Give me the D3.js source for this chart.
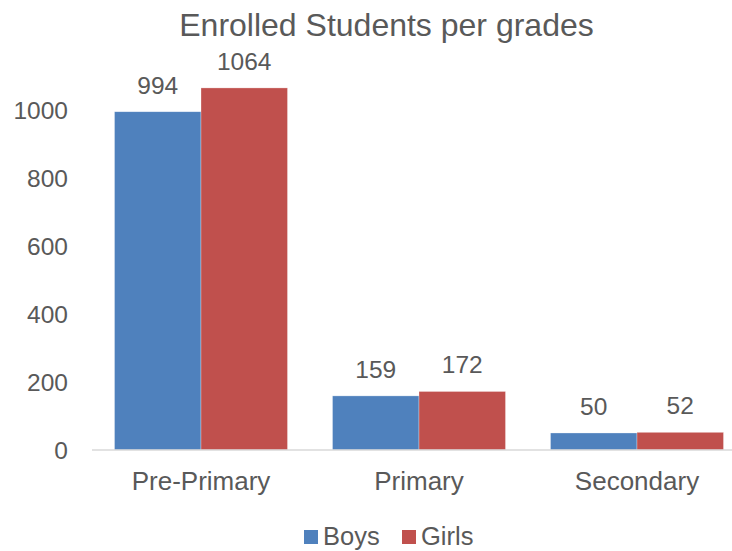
<!DOCTYPE html>
<html>
<head>
<meta charset="utf-8">
<script src="https://cdn.jsdelivr.net/npm/d3@7"></script>
<style>
  html, body { margin: 0; padding: 0; background: #fff; }
  svg { display: block; font-family: Arial, "Liberation Sans", sans-serif; }
</style>
</head>
<body>
<svg id="chart" width="732" height="551"></svg>
<script>
const categories = ["Pre-Primary", "Primary", "Secondary"];
const seriesNames = ["Boys", "Girls"];
const boys = [994, 159, 50];
const girls = [1064, 172, 52];
const yTicks = [0, 200, 400, 600, 800, 1000];
const title = "Enrolled Students per grades";
const colors = ["#4F81BD", "#C0504D"];

const svg = d3.select("#chart");
const textColor = "#595959";

const x0 = d3.scaleBand().domain(categories).range([92, 746]).paddingInner(0.2064).paddingOuter(0.1032);
const x1 = d3.scaleBand().domain(seriesNames).range([0, x0.bandwidth()]);
const y = d3.scaleLinear().domain([0, 1000]).range([450, 109.7]);

// title
svg.append("text").attr("x", 386.5).attr("y", 36).attr("text-anchor", "middle")
  .attr("font-size", 32).attr("fill", textColor).text(title);

// y axis (labels only)
const yAxis = d3.axisLeft(y).tickValues(yTicks).tickSize(0).tickPadding(0).tickFormat(d3.format("d"));
const yg = svg.append("g").attr("transform", "translate(68,0)").call(yAxis);
yg.select(".domain").remove();
yg.selectAll("text").attr("font-size", 24.5).attr("fill", textColor)
  .attr("font-family", "Arial, 'Liberation Sans', sans-serif").attr("dy", "0.36em");

// bars
const data = categories.map((c, i) => ({ cat: c, values: [boys[i], girls[i]] }));
const groups = svg.append("g").selectAll("g").data(data).join("g")
  .attr("transform", d => `translate(${x0(d.cat)},0)`);

groups.selectAll("rect").data(d => d.values.map((v, j) => ({ s: seriesNames[j], v, j })))
  .join("rect")
  .attr("x", d => x1(d.s))
  .attr("y", d => y(d.v))
  .attr("width", x1.bandwidth())
  .attr("height", d => y(0) - y(d.v))
  .attr("fill", d => colors[d.j])
  .attr("stroke", "#ffffff").attr("stroke-width", 0.6).attr("stroke-opacity", 0.5);

groups.selectAll("text").data(d => d.values.map((v, j) => ({ s: seriesNames[j], v, j })))
  .join("text")
  .attr("x", d => x1(d.s) + x1.bandwidth() / 2)
  .attr("y", d => y(d.v) - 18)
  .attr("text-anchor", "middle")
  .attr("font-size", 24.5).attr("fill", textColor)
  .text(d => d.v);

// x axis baseline
svg.append("line").attr("x1", 92).attr("x2", 732).attr("y1", y(0)).attr("y2", y(0))
  .attr("stroke", "#D9D9D9").attr("stroke-width", 1.5);

// x category labels
const xAxis = d3.axisBottom(x0).tickSize(0).tickPadding(0);
const xg = svg.append("g").attr("transform", "translate(0,0)").call(xAxis);
xg.select(".domain").remove();
xg.selectAll("text").attr("font-size", 26).attr("fill", textColor)
  .attr("font-family", "Arial, 'Liberation Sans', sans-serif")
  .attr("y", 490).attr("dy", 0);

// legend
const legendItems = [
  { name: "Boys", color: colors[0], sx: 304, tx: 323 },
  { name: "Girls", color: colors[1], sx: 402, tx: 421 }
];
const lg = svg.append("g");
legendItems.forEach(it => {
  lg.append("rect").attr("x", it.sx).attr("y", 530).attr("width", 14).attr("height", 14).attr("fill", it.color);
  lg.append("text").attr("x", it.tx).attr("y", 545).attr("font-size", 25.5).attr("fill", textColor).text(it.name);
});
</script>
</body>
</html>
